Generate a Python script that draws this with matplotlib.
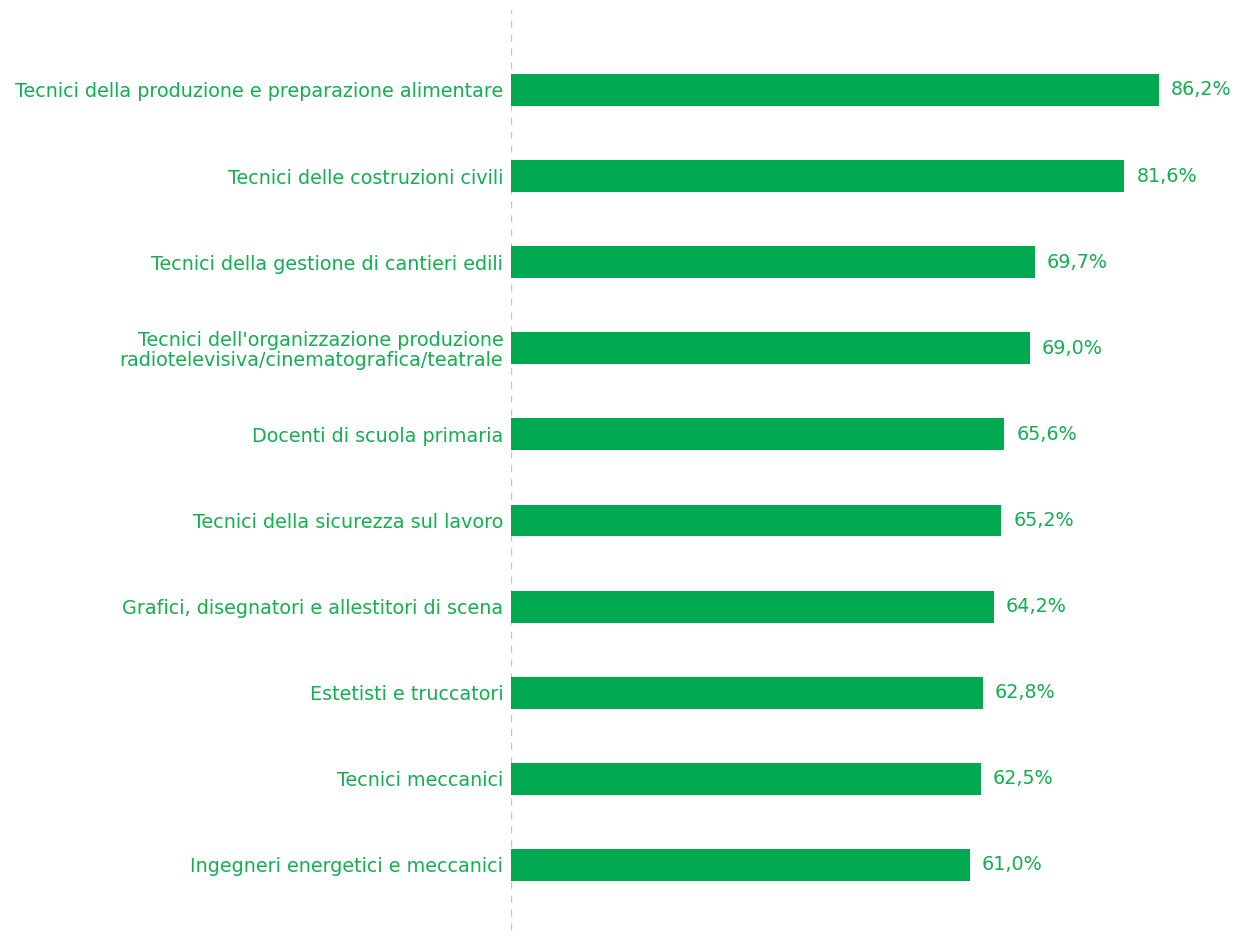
import matplotlib
matplotlib.use("Agg")
import matplotlib.pyplot as plt

categories = [
    "Tecnici della produzione e preparazione alimentare",
    "Tecnici delle costruzioni civili",
    "Tecnici della gestione di cantieri edili",
    "Tecnici dell'organizzazione produzione\nradiotelevisiva/cinematografica/teatrale",
    "Docenti di scuola primaria",
    "Tecnici della sicurezza sul lavoro",
    "Grafici, disegnatori e allestitori di scena",
    "Estetisti e truccatori",
    "Tecnici meccanici",
    "Ingegneri energetici e meccanici",
]
values = [86.2, 81.6, 69.7, 69.0, 65.6, 65.2, 64.2, 62.8, 62.5, 61.0]
value_labels = ["86,2%", "81,6%", "69,7%", "69,0%", "65,6%", "65,2%", "64,2%", "62,8%", "62,5%", "61,0%"]

BAR = "#00A84F"
TXT = "#12B04F"
FS = 13.8

plt.rcParams['font.family'] = ['DejaVu Sans']

fig = plt.figure(figsize=(12.38, 9.36), dpi=100)
ax = fig.add_axes([511/1238, 0, 1 - 511/1238, 1])

pos = list(range(len(categories)))
ax.barh(pos, values, height=0.37, color=BAR, zorder=2)
ax.set_xlim(0, (1238 - 511) / 7.517)
ax.set_ylim(9.826, -1.045)

ax.axvline(0, ymin=6/936, ymax=926/936, color="#b5cbbd", lw=1.0, ls=(0, (5, 5)), zorder=1)

for p, v, lab in zip(pos, values, value_labels):
    ax.text(v + 1.6, p, lab, va="center", ha="left", color=TXT, fontsize=FS)

ax.set_yticks(pos)
ax.set_yticklabels(categories, color=TXT, fontsize=FS, linespacing=1.05)
ax.tick_params(axis="y", length=0, pad=5.5)
ax.set_xticks([])
for s in ax.spines.values():
    s.set_visible(False)

fig.savefig("out.png", dpi=100)
